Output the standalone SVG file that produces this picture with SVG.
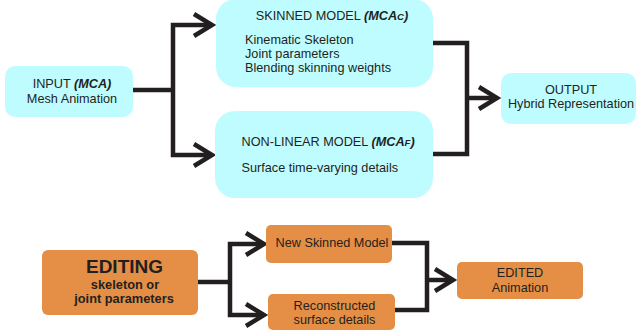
<svg xmlns="http://www.w3.org/2000/svg" width="637" height="332" viewBox="0 0 637 332">
<style>
.cy{fill:#bffcff}
.or{fill:#e48f45}
.t{font-family:"Liberation Sans",Arial,sans-serif;font-size:12.7px;fill:#231f20}
.b{font-weight:bold}
.bi{font-weight:bold;font-style:italic}
.c{text-anchor:middle}
.big{font-size:19px}
.mid{font-size:12.8px}
.ln{fill:none;stroke:#231f20;stroke-width:4.5;stroke-linejoin:miter}
.arr{marker-end:url(#chev)}
</style>
<defs>
<marker id="chev" markerUnits="userSpaceOnUse" viewBox="-24 -14 28 28" markerWidth="28" markerHeight="28" refX="0" refY="0" orient="auto" overflow="visible">
<path d="M-18,-11 L0,0 L-18,11" fill="none" stroke="#231f20" stroke-width="4.5" stroke-linejoin="miter"/>
</marker>
</defs>
<rect width="637" height="332" fill="#ffffff"/>
<g id="connectors">
<path class="ln" d="M133 90 H173"/>
<path class="ln arr" d="M173 90 V25 H212"/>
<path class="ln arr" d="M173 90 V155 H212"/>
<path class="ln" d="M433 43 H467 V154 H432"/>
<path class="ln arr" d="M467 98 H497"/>
<path class="ln" d="M198 282 H230"/>
<path class="ln arr" d="M230 282 V244 H264"/>
<path class="ln arr" d="M230 282 V315 H264"/>
<path class="ln" d="M392 243 H427 V310 H395"/>
<path class="ln arr" d="M427 280 H453"/>
</g>
<g id="input">
<rect class="cy" x="5" y="66" width="128" height="51" rx="10"/>
<text class="t c" x="72" y="88">INPUT <tspan class="bi">(MCA)</tspan></text>
<text class="t c" x="72" y="103">Mesh Animation</text>
</g>
<g id="skinned">
<rect class="cy" x="216" y="-1" width="217" height="88" rx="20"/>
<text class="t c" x="332" y="20">SKINNED MODEL <tspan class="bi">(MCA<tspan font-size="9.5">C</tspan>)</tspan></text>
<text class="t" x="245" y="44">Kinematic Skeleton</text>
<text class="t" x="245" y="58">Joint parameters</text>
<text class="t" x="245" y="72">Blending skinning weights</text>
</g>
<g id="nonlinear">
<rect class="cy" x="215" y="111" width="218" height="87" rx="20"/>
<text class="t" x="241.5" y="145.5">NON-LINEAR MODEL <tspan class="bi">(MCA<tspan font-size="9.5">F</tspan>)</tspan></text>
<text class="t" x="241.5" y="172">Surface time-varying details</text>
</g>
<g id="output">
<rect class="cy" x="501" y="73" width="135" height="51" rx="10"/>
<text class="t c" x="571" y="94">OUTPUT</text>
<text class="t c" x="571" y="108">Hybrid Representation</text>
</g>
<g id="editing">
<rect class="or" x="42" y="250" width="156" height="65" rx="6"/>
<text class="t b c big" x="124.5" y="273">EDITING</text>
<text class="t b c mid" x="125" y="289">skeleton or</text>
<text class="t b c mid" x="124" y="303">joint parameters</text>
</g>
<g id="newskinned">
<rect class="or" x="266" y="225" width="126" height="38" rx="5"/>
<text class="t c" x="332" y="247">New Skinned Model</text>
</g>
<g id="reconstructed">
<rect class="or" x="268" y="294" width="127" height="36" rx="5"/>
<text class="t c" x="334.5" y="310">Reconstructed</text>
<text class="t c" x="334.5" y="324">surface details</text>
</g>
<g id="edited">
<rect class="or" x="457" y="262" width="126" height="37" rx="5"/>
<text class="t c" x="520" y="277">EDITED</text>
<text class="t c" x="520" y="292">Animation</text>
</g>
</svg>
